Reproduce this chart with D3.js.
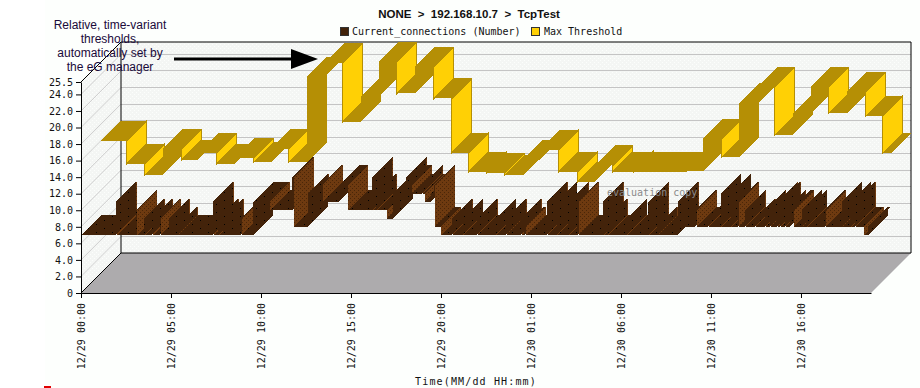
<!DOCTYPE html>
<html>
<head>
<meta charset="utf-8">
<script src="https://cdn.jsdelivr.net/npm/d3@7"></script>
<style>
	html, body { margin: 0; padding: 0; background: #fff; }
	svg { display: block; }
	text { font-family: "DejaVu Sans Mono", monospace; font-size: 10px; fill: #111; }
	.face { shape-rendering: crispEdges; }
</style>
</head>
<body>
<div id="chart"></div>
<script>
// hours since 12/29 00:00 where each step starts, and the value it steps to
const thresholdHours = [0, 1.44, 2.44, 3.44, 4.5, 5.39, 6.44, 7.44, 8.5, 9.44, 10.44, 11.44, 12.44, 13.44, 14.44, 15.44, 16.44, 17.44, 18.5, 19.5, 20.44, 21.44, 22.44, 23.44, 24.39, 25.44, 26.5, 27.44, 28.44, 29.56, 31.5, 32.56, 33.44, 34.5, 35.44, 36.5, 37.44, 38.44, 39.44, 40.44, 41.44, 42.5, 43.44]
const thresholdValues = [16, 13.2, 11.85, 15, 13.7, 14.5, 13.2, 13.9, 13.4, 15, 13.4, 23.7, 25.4, 18.3, 21.3, 25.5, 21.7, 24.9, 21.1, 14.55, 12.25, 12.1, 11.8, 13.7, 14.9, 12.25, 11.05, 13, 12.25, 12.15, 12.25, 12.3, 16.2, 14, 20.5, 22.5, 16.7, 19.3, 22.5, 19.3, 21.9, 19, 14.5]

const connectionHours = [0, 1.94, 2, 3.06, 3.13, 3.5, 3.56, 3.94, 4, 4.37, 4.44, 4.89, 4.94, 5.11, 5.33, 5.39,
	7.33, 7.39, 7.61, 7.67, 7.89, 7.94, 8.22, 8.87, 8.94, 9.56, 10.5, 11.72, 11.83, 12.61, 12.67, 13.33, 13.42, 14.33, 14.83,
	16.17, 16.22, 16.39, 16.44, 17, 17.33, 18.06, 18.11, 18.33, 18.39, 18.94, 19, 19.11, 19.44, 19.59, 19.67, 20,
	20.6, 20.65, 21.2, 21.25, 21.98, 22.03, 23.04, 23.08, 23.6, 23.64, 24.44, 24.5, 24.61, 24.72,
	25.87, 25.92, 26.43, 26.47, 27.07, 27.11, 27.56, 27.65, 29, 29.06, 29.22, 29.28, 30.32, 30.36, 31.52, 31.56, 32, 32.06,
	33.15, 33.2, 34.11, 34.22, 34.83, 34.89, 35.54, 35.58, 36.09, 36.13, 36.48, 36.56, 36.89, 36.94, 37.44, 37.5,
	38, 38.06, 38.28, 38.33, 38.67, 38.72, 38.83, 38.89, 39.11, 39.17, 39.39, 39.56, 39.61, 40.04, 40.08, 40.32, 40.36,
	41.31, 41.39, 42.26, 42.3, 42.76, 42.8, 42.98, 43.03, 43.5, 43.72]
const connectionValues = [7, 11, 7, 10, 7, 9, 7, 9, 7, 9, 7, 9, 7, 7, 8, 7,
	11, 7, 9, 7, 9, 7, 7, 9, 7, 11, 10, 14, 8, 12, 11, 13, 11, 13, 10,
	14, 10, 12, 10, 9, 12, 14, 13, 13, 12, 13, 12, 11, 12, 13, 8, 7,
	9, 7, 9, 7, 9, 7, 9, 7, 9, 7, 9, 7, 8, 7,
	11, 7, 11, 7, 11, 7, 11, 7, 11, 7, 9, 7, 9, 7, 11, 7, 8, 7,
	11, 8, 10, 8, 9, 8, 12, 8, 12, 8, 11, 8, 10, 8, 9, 8,
	10, 8, 10, 8, 11, 8, 11, 8, 10, 8, 10, 10, 8, 10, 8, 10, 8,
	10, 8, 11, 8, 11, 8, 11, 8, 7, 8]

const endHour = 43.89
const yTicks = [0, 2, 4, 6, 8, 10, 12, 14, 16, 18, 20, 22, 24, 25.5]
const gridValues = [2, 4, 6, 8, 10, 12, 14, 16, 18, 20, 22, 24]
const xTickHours = [0, 5, 10, 15, 20, 25, 30, 35, 40]
const xTickLabels = ['12/29 00:00', '12/29 05:00', '12/29 10:00', '12/29 15:00', '12/29 20:00', '12/30 01:00', '12/30 06:00', '12/30 11:00', '12/30 16:00']
const noteLines = ['Relative, time-variant', 'thresholds,', 'automatically set by', 'the eG manager']

const width = 920, height = 388
const depth = 40
const x = d3.scaleLinear().domain([0, endHour]).range([81, 871])
const y = d3.scaleLinear().domain([0, 25.5]).range([293, 82])
const line = d3.line()

const svg = d3.select('#chart').append('svg').attr('width', width).attr('height', height)

// the fill textures
const defs = svg.append('defs')
function dots(id, bg, dot, w, h, pts){
	const p = defs.append('pattern').attr('id', id).attr('patternUnits', 'userSpaceOnUse').attr('width', w).attr('height', h)
	p.append('rect').attr('width', w).attr('height', h).attr('fill', bg)
	pts.forEach(d => p.append('rect').attr('x', d[0]).attr('y', d[1]).attr('width', 1).attr('height', 1).attr('fill', dot))
}
dots('wall', '#f4f6f4', '#fcfefc', 4, 4, [[0, 0], [2, 2]])
dots('brownTop', '#43230a', '#000', 16, 8, [[0, 0], [8, 4]])
dots('brownDrop', '#6e3a10', '#4a2608', 4, 4, [[0, 0], [2, 2]])

svg.append('rect').attr('x', 45).attr('width', width - 45).attr('height', height).attr('fill', '#fdfffd')
svg.append('rect').attr('x', 44).attr('y', 386).attr('width', 7).attr('height', 2).attr('fill', '#e00000')

// walls and floor
const left = x(0), right = x(endHour), bottom = y(0), top0 = y(25.5)
svg.append('path').attr('fill', 'url(#wall)')
	.attr('d', line([[left + depth, bottom - depth], [left + depth, top0 - depth], [right + depth, top0 - depth], [right + depth, bottom - depth]]) + 'Z')
svg.append('path').attr('fill', 'url(#wall)')
	.attr('d', line([[left, bottom], [left, top0], [left + depth, top0 - depth], [left + depth, bottom - depth]]) + 'Z')
svg.append('path').attr('fill', '#adabad')
	.attr('d', line([[left, bottom], [right, bottom], [right + depth, bottom - depth], [left + depth, bottom - depth]]) + 'Z')

svg.append('g').selectAll('line').data(gridValues).join('line')
	.attr('x1', left + depth).attr('x2', right + depth)
	.attr('y1', d => y(d) - depth).attr('y2', d => y(d) - depth)
	.attr('stroke', '#c4c4c4').attr('shape-rendering', 'crispEdges')
svg.append('g').selectAll('line').data(gridValues).join('line')
	.attr('x1', left).attr('x2', left + depth)
	.attr('y1', d => y(d)).attr('y2', d => y(d) - depth)
	.attr('stroke', '#cfcfcf')

const frame = [
	[[left + depth, bottom - depth], [left + depth, top0 - depth]],
	[[left + depth, top0 - depth], [right + depth, top0 - depth]],
	[[right + depth, top0 - depth], [right + depth, bottom - depth]],
	[[left + depth, bottom - depth], [right + depth, bottom - depth]],
	[[left, top0], [left + depth, top0 - depth]],
	[[left, bottom], [left + depth, bottom - depth]]
]
svg.append('g').selectAll('path').data(frame).join('path')
	.attr('d', d => line(d)).attr('stroke', '#000').attr('fill', 'none')

// one ribbon of steps, painted from left to right
function ribbon(hours, values, offset, band, topFill, dropFill, dropStroke){
	const faces = []
	hours.forEach((h, i) => {
		const next = i + 1 < hours.length ? hours[i + 1] : endHour
		const x0 = x(h) + offset, x1 = x(next) + offset, yv = y(values[i]) - offset
		faces.push({order: i, pts: [[x0, yv], [x1, yv], [x1 + band, yv - band], [x0 + band, yv - band]], fill: topFill})
		if (i + 1 === hours.length) return
		const yn = y(values[i + 1]) - offset
		const pts = [[x1, yv], [x1 + band, yv - band], [x1 + band, yn - band], [x1, yn]]
		if (yn > yv) {
			faces.push({order: i + 0.5, pts: pts, fill: dropFill, stroke: dropStroke})
		} else {
			// a spike that falls straight back keeps its rise on top
			const spike = i + 2 < hours.length && hours[i + 2] - hours[i + 1] < 0.065 && values[i + 2] < values[i + 1]
			faces.push({order: spike ? i + 1.9 : i + 0.5, pts: pts, fill: topFill})
		}
	})
	faces.sort((a, b) => a.order - b.order)
	svg.append('g').selectAll('path').data(faces).join('path')
		.attr('class', 'face')
		.attr('d', d => line(d.pts) + 'Z')
		.attr('fill', d => d.fill)
		.attr('stroke', d => d.stroke || 'none')
}
ribbon(thresholdHours, thresholdValues, 20, 20, '#b58f05', '#ffd005', '#b58f05')
ribbon(connectionHours, connectionValues, 0, 20, 'url(#brownTop)', 'url(#brownDrop)')

// axes
const yAxis = d3.axisLeft(y).tickValues(yTicks).tickSize(5).tickSizeOuter(0)
	.tickFormat(d => d === 0 ? '0' : d3.format('.1f')(d))
const gy = svg.append('g').attr('transform', `translate(${left},0)`).call(yAxis)
const xAxis = d3.axisBottom(x).tickValues(xTickHours).tickSize(5).tickSizeOuter(0)
	.tickFormat((d, i) => xTickLabels[i])
const gx = svg.append('g').attr('transform', `translate(0,${bottom})`).call(xAxis)
gx.selectAll('text')
	.attr('transform', 'rotate(-90)')
	.attr('text-anchor', 'end')
	.attr('x', -10).attr('y', 0).attr('dy', '0.35em')
svg.selectAll('.domain, .tick line').attr('stroke', '#000')
svg.selectAll('.tick text').attr('font-family', null).attr('font-size', null)

// header, legend and notes
svg.append('text').attr('x', 469).attr('y', 18).attr('text-anchor', 'middle')
	.style('font-family', '"Liberation Sans", sans-serif').style('font-size', '11.5px').style('font-weight', 'bold')
	.style('white-space', 'pre')
	.text('NONE  >  192.168.10.7  >  TcpTest')

const legend = [['Current_connections (Number)', '#43230a', 340, 352], ['Max Threshold', '#ffd005', 531, 544]]
legend.forEach(d => {
	svg.append('rect').attr('x', d[2] + 0.5).attr('y', 27.5).attr('width', 8).attr('height', 8)
		.attr('fill', d[1]).attr('stroke', '#333')
	svg.append('text').attr('x', d[3]).attr('y', 35).text(d[0])
})

svg.append('text').attr('x', 476).attr('y', 385).attr('text-anchor', 'middle')
	.style('letter-spacing', '1.15px').text('Time(MM/dd HH:mm)')
svg.append('text').attr('x', 607).attr('y', 196).style('fill', '#8a8a8a').text('evaluation copy')

svg.append('g').selectAll('text').data(noteLines).join('text')
	.attr('x', 110).attr('y', (d, i) => 29 + i * 14)
	.attr('text-anchor', 'middle')
	.style('font-family', '"Liberation Sans", sans-serif').style('font-size', '12px').style('fill', '#1a0a3a')
	.text(d => d)

svg.append('path').attr('d', line([[174, 59], [292, 59]])).attr('stroke', '#000').attr('stroke-width', 3)
svg.append('path').attr('d', line([[291, 49], [318, 59], [291, 69]]) + 'Z').attr('fill', '#000')
</script>
</body>
</html>
